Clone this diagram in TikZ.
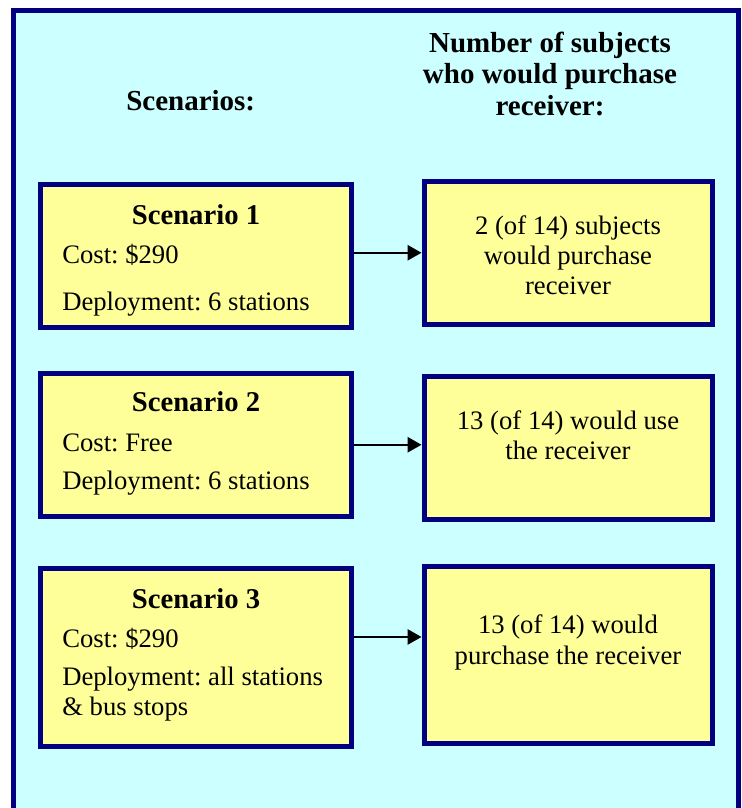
\documentclass[tikz,border=0pt]{standalone}
\usepackage{fontspec}
\setmainfont{Liberation Serif}
\usetikzlibrary{arrows.meta}
\definecolor{navyline}{HTML}{000080}
\definecolor{paleCyan}{HTML}{CCFFFF}
\definecolor{paleYellow}{HTML}{FFFF99}
\frenchspacing
\begin{document}
\begin{tikzpicture}[x=0.75pt,y=-0.75pt,
  box/.style={draw=navyline, line width=3.75pt, fill=paleYellow, inner sep=0pt},
  leftbox/.style={box, minimum width=233.25pt},
  rightbox/.style={box, minimum width=216pt},
  txt/.style={font=\fontsize{20}{24}\selectfont, inner sep=0pt},
  bodyl/.style={txt, anchor=base west},
  bodyc/.style={txt, anchor=base},
  ttl/.style={font=\bfseries\fontsize{21.5}{26}\selectfont, inner sep=0pt, anchor=base},
  hdr/.style={font=\bfseries\fontsize{21.75}{26}\selectfont, inner sep=0pt, anchor=base},
  conn/.style={line width=1.5pt, -{Triangle[length=10.5pt,width=11.5pt]}}]
\useasboundingbox (0,0) rectangle (742,808);
\clip (0,0) rectangle (742,808);
\draw[draw=navyline, fill=paleCyan, line width=4.1pt] (13.5,10.75) rectangle (738.5,830);

% headers
\node[hdr] (hs) at (190.7,110.7) {Scenarios:};
\node[hdr] (hn1) at (550,52.7) {Number of subjects};
\node[hdr] (hn2) at (550,83.3) {who would purchase};
\node[hdr] (hn3) at (550,115) {receiver:};

% boxes
\node[leftbox, minimum height=106.9pt] (s1) at (196,256.25) {};
\node[leftbox, minimum height=107.6pt] (s2) at (196,444.75) {};
\node[leftbox, minimum height=134pt] (s3) at (196,657.5) {};
\node[rightbox, minimum height=107.6pt] (r1) at (568,252.75) {};
\node[rightbox, minimum height=107.25pt] (r2) at (568,447.5) {};
\node[rightbox, minimum height=133.1pt] (r3) at (568,654.75) {};

% left texts
\node[ttl] (t1) at (196,224) {Scenario 1};
\node[bodyl] (c1) at (62,263.3) {Cost: \$290};
\node[bodyl] (d1) at (62,310) {Deployment: 6 stations};
\node[ttl] (t2) at (196,411) {Scenario 2};
\node[bodyl] (c2) at (62,451.7) {Cost: Free};
\node[bodyl] (d2) at (62,489.3) {Deployment: 6 stations};
\node[ttl] (t3) at (196,608.3) {Scenario 3};
\node[bodyl] (c3) at (62,647.3) {Cost: \$290};
\node[bodyl] (d3) at (62,685) {Deployment: all stations};
\node[bodyl] (e3) at (62,715.7) {\& bus stops};

% right texts
\node[bodyc] (a1) at (568,234.3) {2 (of 14) subjects};
\node[bodyc] (b1) at (568,264.3) {would purchase};
\node[bodyc] (f1) at (568,294.3) {receiver};
\node[bodyc] (a2) at (568,429) {13 (of 14) would use};
\node[bodyc] (b2) at (568,459) {the receiver};
\node[bodyc] (a3) at (568,633.3) {13 (of 14) would};
\node[bodyc] (b3) at (568,664.3) {purchase the receiver};

% connectors
\draw[conn] (s1.east |- r1.west) -- (r1.west);
\draw[conn] (s2.east) -- (s2.east -| r2.west);
\coordinate (k3) at ([yshift=15.4pt]s3.east);
\draw[conn] (k3) -- (k3 -| r3.west);
\end{tikzpicture}
\end{document}
